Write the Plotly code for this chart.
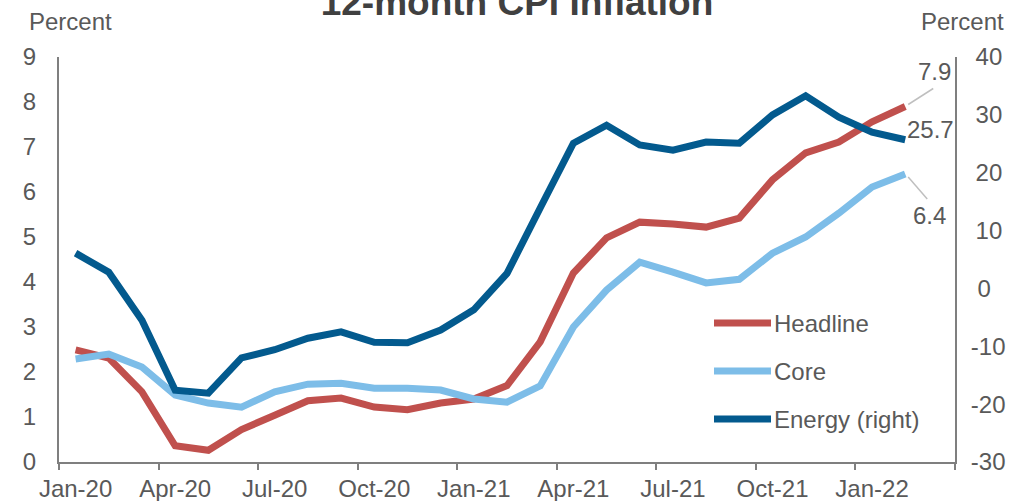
import plotly.graph_objects as go

months = ["Jan-20", "Feb-20", "Mar-20", "Apr-20", "May-20", "Jun-20", "Jul-20", "Aug-20",
          "Sep-20", "Oct-20", "Nov-20", "Dec-20", "Jan-21", "Feb-21", "Mar-21", "Apr-21",
          "May-21", "Jun-21", "Jul-21", "Aug-21", "Sep-21", "Oct-21", "Nov-21", "Dec-21",
          "Jan-22", "Feb-22"]
headline = [2.49, 2.31, 1.56, 0.36, 0.26, 0.72, 1.04, 1.36, 1.42, 1.22, 1.16, 1.31, 1.40,
            1.70, 2.67, 4.20, 4.98, 5.33, 5.29, 5.22, 5.42, 6.27, 6.87, 7.11, 7.56, 7.9]
core = [2.29, 2.40, 2.11, 1.49, 1.31, 1.22, 1.56, 1.73, 1.75, 1.64, 1.64, 1.60, 1.40,
        1.33, 1.69, 3.00, 3.82, 4.44, 4.22, 3.98, 4.06, 4.64, 5.00, 5.53, 6.11, 6.4]
energy = [6.1, 2.8, -5.5, -17.6, -18.1, -12.0, -10.6, -8.6, -7.5, -9.3, -9.4, -7.2, -3.7,
          2.6, 13.9, 25.1, 28.2, 24.8, 23.9, 25.3, 25.1, 30.0, 33.3, 29.6, 27.0, 25.7]
left_ticks = [0, 1, 2, 3, 4, 5, 6, 7, 8, 9]
right_ticks = [-30, -20, -10, 0, 10, 20, 30, 40]
# thin spaces keep the right-axis labels visually centred like the original
right_ticktext = ["-30", "-20", "-10", "\u20080", "\u200910", "\u200920", "\u200930", "\u200940"]

RED = "#C0504D"
LIGHT = "#7DBDE8"
DARK = "#035A8E"
GRAY_TXT = "#595959"
AXIS = "#7F7F7F"
FONT = "Liberation Sans"
FS = 24

fig = go.Figure()
fig.add_trace(go.Scatter(x=months, y=energy, name="Energy (right)", yaxis="y2", mode="lines",
                         line=dict(color=DARK, width=7), showlegend=False))
fig.add_trace(go.Scatter(x=months, y=headline, name="Headline", mode="lines",
                         line=dict(color=RED, width=7), showlegend=False))
fig.add_trace(go.Scatter(x=months, y=core, name="Core", mode="lines",
                         line=dict(color=LIGHT, width=7), showlegend=False))

W, H = 1012, 501
ml, mr, mt, mb = 59, 57, 57, 39
pw, ph = W - ml - mr, H - mt - mb

def px_x(p):
    return (p - ml) / pw

def px_y(p):
    return (H - mb - p) / ph

fig.update_layout(
    width=W, height=H,
    margin=dict(l=ml, r=mr, t=mt, b=mb, autoexpand=False),
    paper_bgcolor="white", plot_bgcolor="white",
    font=dict(family=FONT, size=FS, color=GRAY_TXT),
    title=dict(text="<b>12-month CPI Inflation</b>", x=517 / W, xanchor="center",
               y=1 - 2 / H, yanchor="middle", yref="container",
               font=dict(family=FONT, size=37, color="#404040")),
    xaxis=dict(type="category", range=[-0.5, 26.5], tickmode="linear", tick0=0, dtick=3,
               tickson="boundaries", ticks="outside", ticklen=6, tickwidth=2, tickcolor=AXIS,
               showline=True, linecolor=AXIS, linewidth=2, showgrid=False, zeroline=False,
               tickangle=0, automargin=False, ticklabelstandoff=4,
               tickfont=dict(size=FS, color=GRAY_TXT)),
    yaxis=dict(range=[0, 9], tickmode="array", tickvals=left_ticks, showline=True,
               linecolor=AXIS, linewidth=2, automargin=False,
               showgrid=False, zeroline=False, ticks="", ticklabelstandoff=16,
               tickfont=dict(size=FS, color=GRAY_TXT)),
    yaxis2=dict(range=[-30, 40], tickmode="array", tickvals=right_ticks, ticktext=right_ticktext,
                overlaying="y", side="right", showline=True, automargin=False,
                linecolor=AXIS, linewidth=2, showgrid=False, zeroline=False, ticks="",
                ticklabelstandoff=9, tickfont=dict(size=FS, color=GRAY_TXT)),
)

# axis unit labels
fig.add_annotation(text="Percent", xref="paper", yref="paper", x=px_x(27), y=px_y(21),
                   xanchor="left", yanchor="middle", showarrow=False,
                   font=dict(size=FS, color=GRAY_TXT))
fig.add_annotation(text="Percent", xref="paper", yref="paper", x=px_x(1006), y=px_y(21),
                   xanchor="right", yanchor="middle", showarrow=False,
                   font=dict(size=FS, color=GRAY_TXT))

# manual legend
legend_items = [("Headline", RED, 323), ("Core", LIGHT, 371), ("Energy (right)", DARK, 419)]
for name, col, yy in legend_items:
    fig.add_shape(type="line", xref="paper", yref="paper", x0=px_x(714), x1=px_x(771),
                  y0=px_y(yy), y1=px_y(yy), line=dict(color=col, width=7))
    fig.add_annotation(text=name, xref="paper", yref="paper", x=px_x(772), y=px_y(yy),
                       xanchor="left", yanchor="middle", showarrow=False,
                       font=dict(size=FS, color=GRAY_TXT))

# end labels
last = months[-1]
fig.add_annotation(text=f"{headline[-1]:.1f}", x=last, y=headline[-1], xref="x", yref="y",
                   xshift=29, yshift=35, showarrow=False, font=dict(size=FS, color=GRAY_TXT))
fig.add_annotation(text=f"{energy[-1]:.1f}", x=last, y=energy[-1], xref="x", yref="y2",
                   xshift=25, yshift=10, showarrow=False, font=dict(size=FS, color=GRAY_TXT))
fig.add_annotation(text=f"{core[-1]:.1f}", x=last, y=core[-1], xref="x", yref="y",
                   xshift=24, yshift=-41, showarrow=False, font=dict(size=FS, color=GRAY_TXT))
# leader lines
fig.add_shape(type="line", xref="x", yref="y", xsizemode="pixel", ysizemode="pixel",
              xanchor=len(months) - 1, yanchor=headline[-1], x0=3, x1=28, y0=2, y1=18,
              line=dict(color="#BFBFBF", width=1.5))
fig.add_shape(type="line", xref="x", yref="y", xsizemode="pixel", ysizemode="pixel",
              xanchor=len(months) - 1, yanchor=core[-1], x0=3, x1=22, y0=-3, y1=-25,
              line=dict(color="#BFBFBF", width=1.5))

fig.write_html("out.html", config={"displayModeBar": False},
               post_script="document.body.style.margin='0';")
